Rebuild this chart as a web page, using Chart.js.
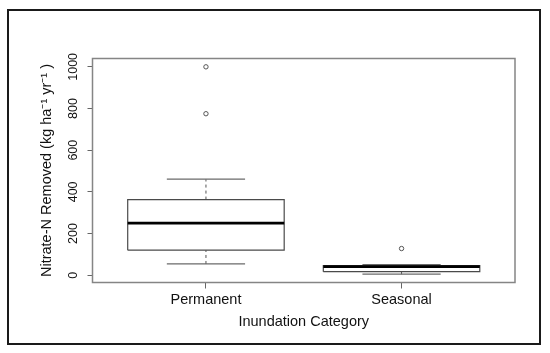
<!DOCTYPE html>
<html>
<head>
<meta charset="utf-8">
<script src="https://cdn.jsdelivr.net/npm/chart.js@4/dist/chart.umd.min.js"></script>
<style>
  html, body { margin: 0; padding: 0; background: #fff; }
  #wrap { position: relative; width: 550px; height: 353px; }
</style>
</head>
<body>
<div id="wrap"><canvas id="c"></canvas></div>
<script>
// ---- data ----
const categories = ['Permanent', 'Seasonal'];
const lowerWhiskers = [54, 5];
const lowerQuartiles = [120, 17];
const medians = [250, 41];
const upperQuartiles = [363, 46];
const upperWhiskers = [461, 51];
const outlierValues = [[775, 1000], [128]];
const yTickValues = [0, 200, 400, 600, 800, 1000];

const FONT = "'Liberation Sans', Arial, sans-serif";
const BOX_HALF = 0.4;   // half box width in category units
const CAP_HALF = 0.2;   // half whisker-cap width

const datasets = [];
categories.forEach((cat, i) => {
  const c = i + 1;
  const base = { pointRadius: 0, fill: false, tension: 0, borderCapStyle: 'butt' };
  datasets.push(Object.assign({}, base, {
    label: cat + ' box',
    data: [
      { x: c - BOX_HALF, y: lowerQuartiles[i] }, { x: c + BOX_HALF, y: lowerQuartiles[i] },
      { x: c + BOX_HALF, y: upperQuartiles[i] }, { x: c - BOX_HALF, y: upperQuartiles[i] },
      { x: c - BOX_HALF, y: lowerQuartiles[i] }
    ],
    borderColor: '#4a4a4a', borderWidth: 1.2, order: 3
  }));
  datasets.push(Object.assign({}, base, {
    label: cat + ' upper whisker',
    data: [{ x: c, y: upperQuartiles[i] }, { x: c, y: upperWhiskers[i] }],
    borderColor: '#555', borderWidth: 1, borderDash: [3, 3], order: 3
  }));
  datasets.push(Object.assign({}, base, {
    label: cat + ' lower whisker',
    data: [{ x: c, y: lowerWhiskers[i] }, { x: c, y: lowerQuartiles[i] }],
    borderColor: '#555', borderWidth: 1, borderDash: [3, 3], order: 3
  }));
  datasets.push(Object.assign({}, base, {
    label: cat + ' upper cap',
    data: [{ x: c - CAP_HALF, y: upperWhiskers[i] }, { x: c + CAP_HALF, y: upperWhiskers[i] }],
    borderColor: '#6a6a6a', borderWidth: 1.2, order: 2
  }));
  datasets.push(Object.assign({}, base, {
    label: cat + ' lower cap',
    data: [{ x: c - CAP_HALF, y: lowerWhiskers[i] }, { x: c + CAP_HALF, y: lowerWhiskers[i] }],
    borderColor: '#6a6a6a', borderWidth: 1.2, order: 2
  }));
  datasets.push(Object.assign({}, base, {
    label: cat + ' median',
    data: [{ x: c - BOX_HALF, y: medians[i] }, { x: c + BOX_HALF, y: medians[i] }],
    borderColor: '#000', borderWidth: 2.6, order: 1
  }));
});
datasets.push({
  label: 'outliers',
  data: outlierValues.flatMap((vals, i) => vals.map(v => ({ x: i + 1, y: v }))),
  showLine: false,
  pointRadius: 2.2,
  pointBorderWidth: 1,
  pointBorderColor: '#555',
  pointBackgroundColor: '#fff',
  order: 0
});

const framePlugin = {
  id: 'frames',
  beforeDraw(chart) {
    const ctx = chart.ctx;
    ctx.save();
    ctx.fillStyle = '#fff';
    ctx.fillRect(0, 0, chart.width, chart.height);
    ctx.restore();
  },
  afterDraw(chart) {
    const ctx = chart.ctx, a = chart.chartArea;
    ctx.save();
    ctx.strokeStyle = '#858585';
    ctx.lineWidth = 1.5;
    ctx.strokeRect(a.left, a.top, a.right - a.left, a.bottom - a.top);
    ctx.strokeStyle = '#1a1a1a';
    ctx.lineWidth = 2;
    ctx.strokeRect(8, 10, 532, 334);
    ctx.restore();
  }
};

new Chart(document.getElementById('c'), {
  type: 'line',
  data: { datasets },
  plugins: [framePlugin],
  options: {
    responsive: true,
    maintainAspectRatio: false,
    animation: false,
    parsing: true,
    layout: { padding: { left: 8, right: 35, top: 58.5, bottom: 20.5 } },
    plugins: { legend: { display: false }, tooltip: { enabled: false } },
    scales: {
      x: {
        type: 'linear',
        min: 0.42, max: 2.58,
        afterBuildTicks: s => { s.ticks = categories.map((_, i) => ({ value: i + 1 })); },
        afterFit: s => { s.height = 50; },
        ticks: {
          callback: v => categories[v - 1],
          font: { family: FONT, size: 14.5 },
          color: '#111', padding: 2.7, autoSkip: false, maxRotation: 0, minRotation: 0
        },
        grid: { drawOnChartArea: false, drawTicks: true, tickLength: 6, tickColor: '#666', tickWidth: 1 },
        border: { display: false },
        title: {
          display: true, text: 'Inundation Category',
          font: { family: FONT, size: 14.5 }, color: '#111',
          padding: { top: 0, bottom: 1.5 }
        }
      },
      y: {
        type: 'linear',
        min: -35, max: 1040,
        afterBuildTicks: s => { s.ticks = yTickValues.map(v => ({ value: v })); },
        afterFit: s => { s.width = 84.5; },
        ticks: {
          callback: v => String(v),
          font: { family: FONT, size: 12.5 },
          color: '#111', padding: 0, minRotation: 90, maxRotation: 90, crossAlign: 'center'
        },
        grid: { drawOnChartArea: false, drawTicks: true, tickLength: 5, tickColor: '#666', tickWidth: 1 },
        border: { display: false },
        title: {
          display: true, text: 'Nitrate-N Removed (kg ha\u207B\u00B9 yr\u207B\u00B9 )',
          font: { family: FONT, size: 14.5 }, color: '#111',
          padding: { top: 29.8, bottom: 0 }
        }
      }
    }
  }
});
</script>
</body>
</html>
